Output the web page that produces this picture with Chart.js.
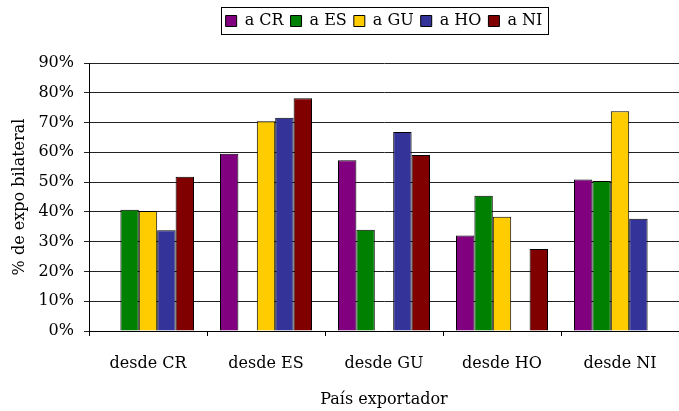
<!DOCTYPE html>
<html>
<head>
<meta charset="utf-8">
<script src="https://cdn.jsdelivr.net/npm/chart.js@4"></script>
<style>
  body { margin: 0; background: #fff; }
  canvas { display: block; }
</style>
</head>
<body>
<canvas id="myChart" width="679" height="411"></canvas>
<script>
// categories and series (percent of bilateral exports)
const categories = ['desde CR', 'desde ES', 'desde GU', 'desde HO', 'desde NI'];
const seriesNames = ['a CR', 'a ES', 'a GU', 'a HO', 'a NI'];
const aCR = [null, 59.5, 57.3, 32.1, 50.9];
const aES = [40.7, null, 34.0, 45.4, 50.4];
const aGU = [40.3, 70.4, null, 38.4, 73.8];
const aHO = [33.8, 71.6, 66.8, null, 37.7];
const aNI = [51.8, 78.2, 59.1, 27.5, null];
const colors = ['#800080', '#008000', '#FFCC00', '#333399', '#800000'];

const FONT = "'DejaVu Serif', serif";

// draws the frame round the legend
const legendBox = {
  id: 'legendBox',
  afterDraw(chart) {
    const boxes = chart.legend.legendHitBoxes;
    if (!boxes || !boxes.length) return;
    let l = Infinity, r = -Infinity, t = Infinity, b = -Infinity;
    boxes.forEach(h => {
      l = Math.min(l, h.left); r = Math.max(r, h.left + h.width);
      t = Math.min(t, h.top); b = Math.max(b, h.top + h.height);
    });
    const ctx = chart.ctx;
    ctx.save();
    ctx.strokeStyle = '#000';
    ctx.lineWidth = 1;
    ctx.strokeRect(Math.round(l - 5) + 0.5, Math.round(t - 6) + 0.5, Math.round(r - l + 10), Math.round(b - t + 11));
    ctx.restore();
  }
};

const ctx = document.getElementById('myChart').getContext('2d');
const chart = new Chart(ctx, {
  type: 'bar',
  data: {
    labels: categories,
    datasets: [aCR, aES, aGU, aHO, aNI].map((vals, i) => ({
      label: seriesNames[i],
      data: vals,
      backgroundColor: colors[i],
      borderColor: '#000',
      borderWidth: 1,
      barPercentage: 1,
      categoryPercentage: 0.78
    }))
  },
  options: {
    responsive: false,
    animation: false,
    devicePixelRatio: 1,
    layout: { padding: { top: 6, right: 0, bottom: 0, left: 0 } },
    plugins: {
      tooltip: { enabled: false },
      legend: {
        position: 'top',
        fullSize: false,
        labels: {
          color: '#000',
          font: { family: FONT, size: 16 },
          boxWidth: 11,
          boxHeight: 11,
          padding: 7
        }
      }
    },
    scales: {
      x: {
        grid: { display: true, drawOnChartArea: false, tickLength: 5, color: '#000', offset: true },
        border: { color: '#000' },
        ticks: { color: '#000', font: { family: FONT, size: 16 }, padding: 18, maxRotation: 0 },
        title: { display: true, text: 'País exportador', color: '#000', font: { family: FONT, size: 16 }, padding: { top: 10, bottom: 2 } },
        afterFit: s => { s.height = 80; }
      },
      // empty spacer between legend and plot
      xTop: {
        position: 'top',
        grid: { display: false },
        border: { display: false },
        ticks: { display: false },
        afterFit: s => { s.height = 24; }
      },
      y: {
        min: 0,
        max: 90,
        ticks: { stepSize: 10, color: '#000', font: { family: FONT, size: 16 }, padding: 10, callback: v => v + '%' },
        grid: { color: '#222', tickLength: 5 },
        border: { color: '#000' },
        title: { display: true, text: '% de expo bilateral', color: '#000', font: { family: FONT, size: 16 }, padding: { top: 10, bottom: 4 } },
        afterFit: s => { s.width = 89; }
      }
    }
  },
  plugins: [legendBox]
});
</script>
</body>
</html>
